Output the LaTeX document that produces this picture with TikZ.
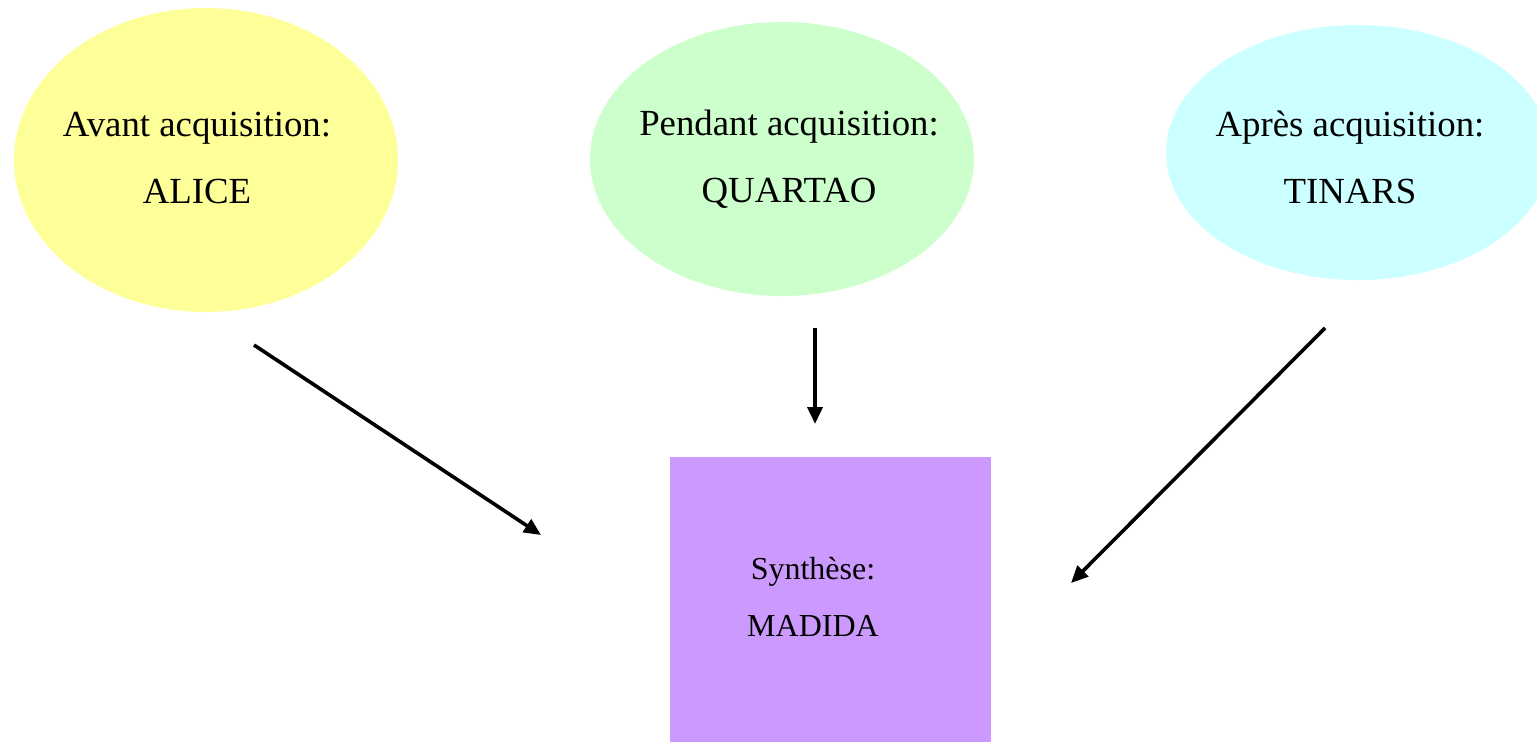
\documentclass[tikz,border=0pt]{standalone}
\usepackage{fontspec}
\setmainfont{Liberation Serif}
\definecolor{acqYellow}{HTML}{FFFF99}
\definecolor{acqGreen}{HTML}{CCFFCC}
\definecolor{acqCyan}{HTML}{CCFFFF}
\definecolor{synthViolet}{HTML}{CC99FF}
\usetikzlibrary{positioning,arrows.meta,shapes.geometric}

\tikzset{
  phase/.style={ellipse, inner sep=0pt, minimum width=192pt},
  phaselabel/.style={align=center, font=\fontsize{18.4}{33.5}\selectfont},
  synthbox/.style={rectangle, inner sep=0pt, fill=synthViolet,
    minimum width=160.5pt, minimum height=144pt},
  flow/.style={line width=1.8pt, -{Triangle[length=8.5pt,width=7.5pt]}}
}

\begin{document}
\begin{tikzpicture}[x=0.5pt, y=-0.5pt]
  \useasboundingbox (0,0) rectangle (1537,741);

  % phases
  \node[phase, fill=acqYellow, minimum height=152pt] (alice) at (206,160) {};
  \node[phase, fill=acqGreen, minimum height=137pt] (quartao) at (782,159) {};
  \node[phase, fill=acqCyan, minimum height=127.5pt] (tinars) at (1358,152.5) {};

  \node[phaselabel] (alicetext) at (197,158) {Avant acquisition:\\ALICE};
  \node[phaselabel] (quartaotext) at (789,159) {Pendant acquisition:\\QUARTAO};
  \node[phaselabel] (tinarstext) at (1350,157) {Après acquisition:\\TINARS};

  % synthese
  \node[synthbox] (madida) at (830.5,601) {};
  \node[align=center, font=\fontsize{16}{28.5}\selectfont] (madidatext)
    at (813,597) {Synthèse:\\MADIDA};

  % arrows
  \coordinate (alicefrom) at (254,345);
  \coordinate (aliceto) at (541,535);
  \coordinate (quartaofrom) at (815,328);
  \coordinate (quartaoto) at (815,424);
  \coordinate (tinarsfrom) at (1325,328);
  \coordinate (tinarsto) at (1071,583);
  \draw[flow] (alicefrom) -- (aliceto);
  \draw[flow] (quartaofrom) -- (quartaoto);
  \draw[flow] (tinarsfrom) -- (tinarsto);
\end{tikzpicture}
\end{document}
